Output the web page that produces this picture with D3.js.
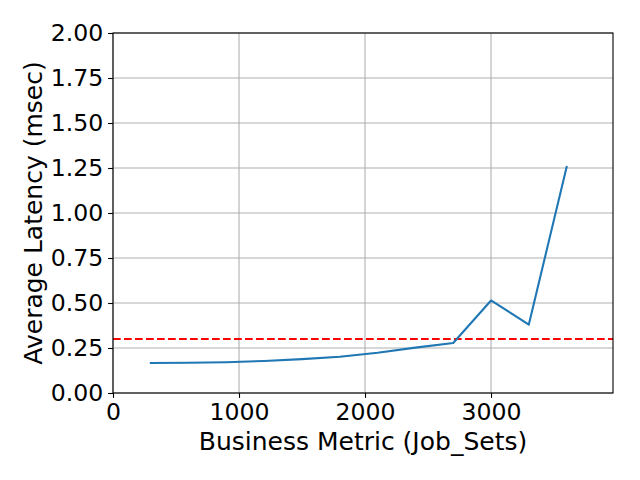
<!DOCTYPE html>
<html><head><meta charset="utf-8">
<script src="https://cdn.jsdelivr.net/npm/d3@7"></script>
<style>body{margin:0;background:#fff}svg{display:block}text{font-family:"DejaVu Sans",sans-serif;fill:#000}</style>
</head><body><svg id="c" width="640" height="480"></svg>
<script>
const jobSets = [300, 600, 900, 1200, 1500, 1800, 2100, 2400, 2700, 3000, 3300, 3600];
const latency = [0.167, 0.168, 0.171, 0.178, 0.188, 0.201, 0.224, 0.252, 0.278, 0.514, 0.380, 1.256];
const threshold = 0.3;
const xTicks = [0, 1000, 2000, 3000];
const yTicks = [0, 0.25, 0.5, 0.75, 1.0, 1.25, 1.5, 1.75, 2.0];

const svg = d3.select("#c");
const L = 113, R = 613, T = 33, B = 393;
const x = d3.scaleLinear().domain([0, 3968]).range([L, R]);
const y = d3.scaleLinear().domain([0, 2]).range([B, T]);

// grid
svg.append("g").selectAll("line").data(xTicks).join("line")
  .attr("x1", d => x(d)).attr("x2", d => x(d)).attr("y1", T).attr("y2", B)
  .attr("stroke", "#b0b0b0").attr("stroke-width", 1.1);
svg.append("g").selectAll("line").data(yTicks).join("line")
  .attr("x1", L).attr("x2", R).attr("y1", d => y(d)).attr("y2", d => y(d))
  .attr("stroke", "#b0b0b0").attr("stroke-width", 1.1);

// threshold
svg.append("line").attr("x1", L).attr("x2", R).attr("y1", y(threshold)).attr("y2", y(threshold))
  .attr("stroke", "#ff0000").attr("stroke-width", 2.08).attr("stroke-dasharray", "7.7,3.3");

// line
svg.append("path").datum(jobSets.map((d, i) => [d, latency[i]]))
  .attr("fill", "none").attr("stroke", "#1f77b4").attr("stroke-width", 2.08)
  .attr("stroke-linejoin", "round").attr("stroke-linecap", "square")
  .attr("d", d3.line().x(d => x(d[0])).y(d => y(d[1])));

// frame
svg.append("rect").attr("x", L).attr("y", T).attr("width", R - L).attr("height", B - T)
  .attr("fill", "none").attr("stroke", "#000").attr("stroke-width", 1.1);

// axes
const xa = svg.append("g").attr("transform", `translate(0,${B})`)
  .call(d3.axisBottom(x).tickValues(xTicks).tickFormat(d3.format("d")).tickSize(4.9).tickPadding(4.9));
const ya = svg.append("g").attr("transform", `translate(${L},0)`)
  .call(d3.axisLeft(y).tickValues(yTicks).tickFormat(d3.format(".2f")).tickSize(4.9).tickPadding(4.9));
[xa, ya].forEach(a => {
  a.select(".domain").remove();
  a.selectAll(".tick line").attr("stroke", "#000").attr("stroke-width", 1.1);
  a.selectAll(".tick text").style("font-family", "DejaVu Sans").style("font-size", "23.6px").attr("fill", "#000");
});

svg.append("text").attr("x", (L + R) / 2).attr("y", 450).attr("text-anchor", "middle")
  .style("font-size", "25px").text("Business Metric (Job_Sets)");
svg.append("text").attr("transform", `translate(42,${(T + B) / 2}) rotate(-90)`).attr("text-anchor", "middle")
  .style("font-size", "25px").text("Average Latency (msec)");
</script></body></html>
